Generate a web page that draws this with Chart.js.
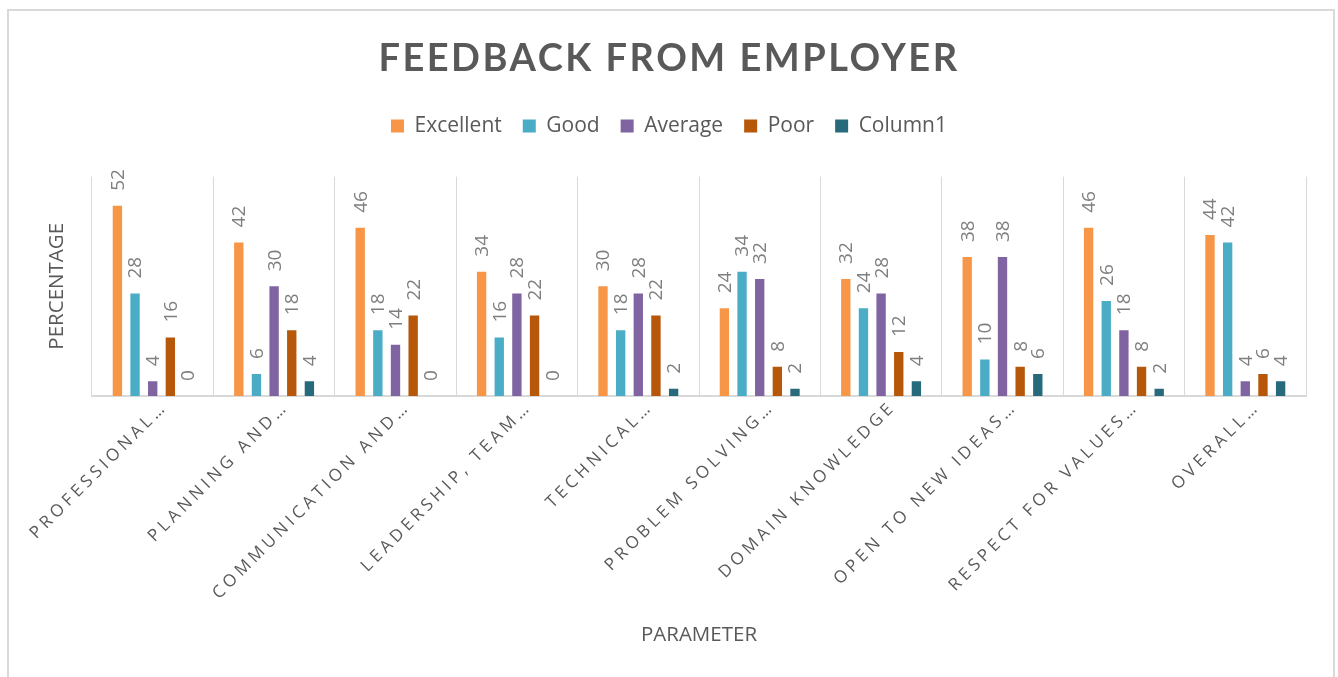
<!DOCTYPE html>
<html><head><meta charset="utf-8">
<script src="https://cdn.jsdelivr.net/npm/chart.js@4.4.1/dist/chart.umd.min.js"></script>
<style>
html,body{margin:0;padding:0;background:#fff;overflow:hidden}
#wrap{position:relative;width:1338px;height:677px}
#frame{position:absolute;left:7px;top:9px;width:1328px;height:720px;border:2px solid #d9d9d9;box-sizing:border-box;pointer-events:none}
canvas{display:block}
</style></head><body>
<div id="wrap"><canvas id="c" width="1338" height="677"></canvas><div id="frame"></div></div>
<script>
const categories = ['PROFESSIONAL…','PLANNING AND…','COMMUNICATION AND…','LEADERSHIP, TEAM…','TECHNICAL…','PROBLEM SOLVING…','DOMAIN KNOWLEDGE','OPEN TO NEW IDEAS…','RESPECT FOR VALUES…','OVERALL…'];
const seriesNames = ['Excellent','Good','Average','Poor','Column1'];
const excellent = [52,42,46,34,30,24,32,38,46,44];
const good      = [28,6,18,16,18,34,24,10,26,42];
const average   = [4,30,14,28,28,32,28,38,18,4];
const poor      = [16,18,22,22,22,8,12,8,8,6];
const column1   = [0,4,0,0,2,2,4,6,2,4];
const yMax = 60;

const colors = ['#F79646','#4BACC6','#8064A2','#B6570A','#276A7C'];
const seriesData = [excellent, good, average, poor, column1];

const labelPlugin = {
  id: 'valLabels',
  afterDatasetsDraw(chart) {
    const ctx = chart.ctx;
    ctx.save();
    ctx.font = '19px "Open Sans"';
    ctx.fillStyle = '#7F7F7F';
    ctx.textAlign = 'left';
    ctx.textBaseline = 'middle';
    chart.data.datasets.forEach((ds, di) => {
      const meta = chart.getDatasetMeta(di);
      meta.data.forEach((el, i) => {
        ctx.save();
        ctx.translate(el.x, el.y - 15);
        ctx.rotate(-Math.PI / 2);
        ctx.fillText(String(ds.data[i]), 0, 1);
        ctx.restore();
      });
    });
    ctx.restore();
  }
};

const LEGEND_EXTRA = 30;
const spacingPlugin = {
  id: 'spacing',
  beforeLayout(chart) {
    const lg = chart.legend;
    if (lg && !lg._fitPatched) {
      const of = lg.fit;
      lg.fit = function() { of.call(this); this.height += LEGEND_EXTRA; };
      lg._fitPatched = true;
    }
  },
  beforeDraw(chart) {
    const xs = chart.scales.x;
    if (xs && !xs._lsPatched) {
      const orig = xs.drawLabels;
      xs.drawLabels = function(area) {
        this.ctx.save();
        this.ctx.letterSpacing = '4px';
        orig.call(this, area);
        this.ctx.restore();
      };
      xs._lsPatched = true;
    }
    const tb = chart.titleBlock;
    if (tb && !tb._lsPatched) {
      const o = tb.draw;
      tb.draw = function() {
        this.ctx.save();
        this.ctx.letterSpacing = '2.5px';
        o.call(this);
        this.ctx.restore();
      };
      tb._lsPatched = true;
    }
  }
};

new Chart(document.getElementById('c'), {
  type: 'bar',
  data: {
    labels: categories,
    datasets: seriesNames.map((n, i) => ({
      label: n,
      data: seriesData[i],
      backgroundColor: colors[i],
      borderWidth: 0,
      categoryPercentage: 0.727,
      barPercentage: 0.53,
      yAxisID: 'y'
    }))
  },
  options: {
    responsive: false,
    animation: false,
    devicePixelRatio: 1,
    layout: { padding: 0 },
    plugins: {
      title: {
        display: true,
        text: 'FEEDBACK FROM EMPLOYER',
        color: '#595959',
        font: { family: 'Lato', size: 38, weight: 'bold' },
        padding: { top: 36, bottom: 13 }
      },
      legend: {
        display: true,
        labels: {
          color: '#595959',
          font: { family: '"Open Sans"', size: 21 },
          boxWidth: 13, boxHeight: 13,
          padding: 21
        }
      },
      tooltip: { enabled: false }
    },
    scales: {
      x: {
        grid: { display: true, offset: true, color: '#d9d9d9', lineWidth: 1, drawTicks: false },
        border: { display: true, color: '#d9d9d9', width: 2 },
        ticks: {
          color: '#595959',
          font: { family: '"Open Sans"', size: 17 },
          minRotation: 45, maxRotation: 45,
          autoSkip: false,
          padding: 1,
          labelOffset: 12
        },
        title: {
          display: true, text: 'PARAMETER', color: '#595959',
          font: { family: '"Open Sans"', size: 20.5 },
          padding: { top: 0, bottom: 30 }
        },
        afterFit(s) { s.height = 281; }
      },
      y: {
        min: 0, max: yMax,
        grid: { display: false },
        border: { display: false },
        ticks: { display: false },
        title: {
          display: true, text: 'PERCENTAGE', color: '#595959',
          font: { family: '"Open Sans"', size: 20.5 },
          padding: { top: 45, bottom: 0 }
        },
        afterFit(s) { s.width = 92; }
      },
      yRight: {
        position: 'right',
        display: true,
        grid: { display: false },
        border: { display: false },
        ticks: { display: false },
        afterFit(s) { s.width = 32; }
      }
    }
  },
  plugins: [labelPlugin, spacingPlugin]
});
</script>
</body></html>
